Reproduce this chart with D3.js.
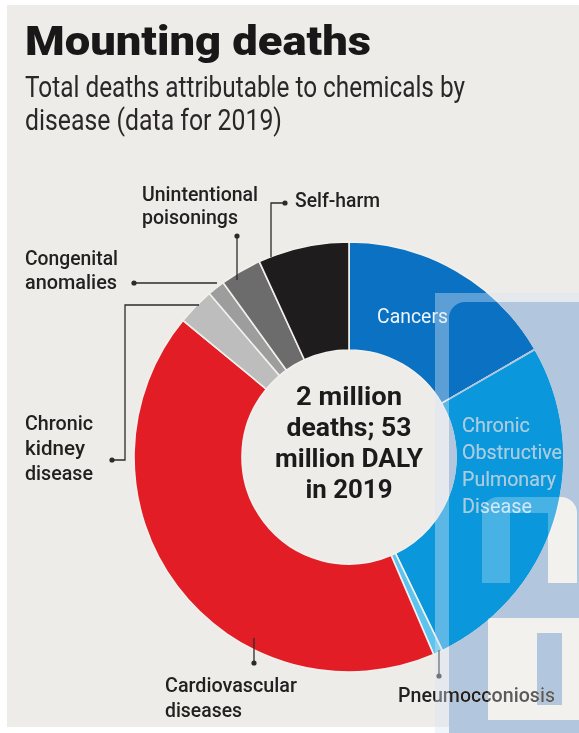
<!DOCTYPE html>
<html>
<head>
<meta charset="utf-8">
<script src="https://cdn.jsdelivr.net/npm/d3@7"></script>
<style>
html, body { margin: 0; padding: 0; background: #ffffff; }
svg { display: block; }
text { font-family: Roboto, "Noto Sans", sans-serif; }
</style>
</head>
<body>
<svg id="chart" width="579" height="733"></svg>
<script>
'use strict';

// deaths attributable to chemicals by disease, 2019 (thousands)
var categories = ['Cancers', 'Chronic Obstructive Pulmonary Disease', 'Pneumocconiosis',
    'Cardiovascular diseases', 'Chronic kidney disease', 'Congenital anomalies',
    'Unintentional poisonings', 'Self-harm'];
var deaths = [333, 524, 14, 848, 56, 26, 62, 137];
var sliceColors = ['#0b71c2', '#0a97dc', '#5cc4ef', '#e21d25', '#bdbdbd', '#9d9d9d', '#6c6c6c', '#1f1c1d'];

var titleText = 'Mounting deaths';
var subtitleLines = ['Total deaths attributable to chemicals by', 'disease (data for 2019)'];
var centreLines = ['2 million', 'deaths; 53', 'million DALY', 'in 2019'];

var svg = d3.select('#chart'),
    width = 579,
    height = 733,
    cx = 349,
    cy = 457,
    outerR = 215,
    innerR = 107,
    ink = '#242021',
    paper = '#eeece8',
    markBlue = '#b2c6de';

//paper background
svg.append('rect')
    .attr('x', 7).attr('y', 5)
    .attr('width', width - 7).attr('height', height - 11)
    .attr('fill', paper);

//title + subtitle
svg.append('text')
    .attr('x', 25).attr('y', 55)
    .attr('font-size', 41)
    .attr('font-weight', 900)
    .attr('fill', '#1a1718')
    .attr('textLength', 346)
    .attr('lengthAdjust', 'spacingAndGlyphs')
    .text(titleText);

var subWidths = [440, 257];
svg.selectAll('text.sub')
    .data(subtitleLines)
    .enter().append('text')
    .attr('class', 'sub')
    .attr('x', 25)
    .attr('y', (d, i) => 97 + i * 33)
    .attr('font-size', 29)
    .attr('fill', '#2b2728')
    .attr('textLength', (d, i) => subWidths[i])
    .attr('lengthAdjust', 'spacingAndGlyphs')
    .text(d => d);

//donut
var pie = d3.pie().sort(null).value(d => d)(deaths);
var arc = d3.arc().innerRadius(innerR).outerRadius(outerR);

var donut = svg.append('g').attr('transform', 'translate(' + cx + ',' + cy + ')');
donut.selectAll('path')
    .data(pie)
    .enter().append('path')
    .attr('d', arc)
    .attr('fill', (d, i) => sliceColors[i])
    .attr('stroke', '#f2f0ec')
    .attr('stroke-width', 1.6);

//centre text
var centreWidths = [106, 125, 148, 87];
donut.selectAll('text.centre')
    .data(centreLines)
    .enter().append('text')
    .attr('class', 'centre')
    .attr('x', 0)
    .attr('y', (d, i) => -52 + i * 31)
    .attr('text-anchor', 'middle')
    .attr('font-size', 26)
    .attr('font-weight', 700)
    .attr('fill', '#1d1a1b')
    .attr('textLength', (d, i) => centreWidths[i])
    .attr('lengthAdjust', 'spacingAndGlyphs')
    .text(d => d);

//labels inside the blue slices
var innerLabels = [
    { lines: ['Cancers'], x: 377, y: 323, widths: [71], fill: '#eef6fc' },
    { lines: ['Chronic', 'Obstructive', 'Pulmonary', 'Disease'], x: 462, y: 432, widths: [68, 100, 94, 70], fill: '#bfe2f6' }
];

//labels outside with leader lines (first leader point carries the dot)
var outerLabels = [
    { lines: ['Unintentional', 'poisonings'], x: 142, y: 201, lh: 23, widths: [116, 96],
      leader: [[237, 236], [237, 280]] },
    { lines: ['Congenital', 'anomalies'], x: 25, y: 265, lh: 24, widths: [93, 92],
      leader: [[134, 283], [217, 283]] },
    { lines: ['Self-harm'], x: 295, y: 207, lh: 24, widths: [85],
      leader: [[285, 203], [271, 203], [271, 257]] },
    { lines: ['Chronic', 'kidney', 'disease'], x: 25, y: 430, lh: 25, widths: [68, 60, 68],
      leader: [[112, 460], [125, 460], [125, 305], [199, 305]] },
    { lines: ['Cardiovascular', 'diseases'], x: 165, y: 692, lh: 25, widths: [132, 77],
      leader: [[254, 663], [254, 638]] },
    { lines: ['Pneumocconiosis'], x: 398, y: 702, lh: 24, widths: [157],
      leader: [[439, 676], [439, 650]] }
];

innerLabels.forEach(lab => {
    lab.lines.forEach((line, i) => {
        svg.append('text')
            .attr('x', lab.x)
            .attr('y', lab.y + i * 27)
            .attr('font-size', 20)
            .attr('fill', lab.fill)
            .attr('textLength', lab.widths[i])
            .attr('lengthAdjust', 'spacingAndGlyphs')
            .text(line);
    });
});

var leaderLine = d3.line();
outerLabels.forEach(lab => {
    svg.append('path')
        .attr('d', leaderLine(lab.leader))
        .attr('fill', 'none')
        .attr('stroke', '#2e2a2b')
        .attr('stroke-width', 1.3);
    svg.append('circle')
        .attr('cx', lab.leader[0][0])
        .attr('cy', lab.leader[0][1])
        .attr('r', 2.6)
        .attr('fill', '#2e2a2b');
    lab.lines.forEach((line, i) => {
        svg.append('text')
            .attr('x', lab.x)
            .attr('y', lab.y + i * lab.lh)
            .attr('font-size', 20)
            .attr('font-weight', 500)
            .attr('fill', ink)
            .attr('textLength', lab.widths[i])
            .attr('lengthAdjust', 'spacingAndGlyphs')
            .text(line);
    });
});

//publisher watermark in the lower right corner
var mark = svg.append('g');

function bodyOutline(p) {
    p.moveTo(449, 318);
    p.arcTo(449, 302, 465, 302, 16);
    p.lineTo(width, 302);
    p.lineTo(width, height);
    p.lineTo(449, height);
    p.closePath();
}

function openings(p) {
    //arch of the "n"
    p.moveTo(482, 583);
    p.lineTo(482, 513);
    p.arcTo(482, 497, 498, 497, 16);
    p.lineTo(561, 497);
    p.arcTo(577, 497, 577, 513, 16);
    p.lineTo(577, 583);
    p.lineTo(548, 583);
    p.lineTo(548, 513);
    p.lineTo(510, 513);
    p.lineTo(510, 583);
    p.closePath();
    //lower opening
    p.moveTo(488, 618);
    p.lineTo(width, 618);
    p.lineTo(width, 720);
    p.lineTo(488, 720);
    p.closePath();
}

//pale frame peeking out above and left of the body
var frame = d3.path();
frame.moveTo(435, 293);
frame.lineTo(width, 293);
frame.lineTo(width, height);
frame.lineTo(435, height);
frame.closePath();
bodyOutline(frame);
mark.append('path')
    .attr('d', frame.toString())
    .attr('fill-rule', 'evenodd')
    .attr('fill', 'rgba(215,230,245,0.4)');

var body = d3.path();
bodyOutline(body);
openings(body);
mark.append('path')
    .attr('d', body.toString())
    .attr('fill', markBlue)
    .attr('fill-rule', 'evenodd')
    .style('mix-blend-mode', 'darken');

var light = d3.path();
openings(light);
mark.append('path')
    .attr('d', light.toString())
    .attr('fill', 'rgba(255,255,255,0.26)');

mark.append('rect')
    .attr('x', 537).attr('y', 633)
    .attr('width', 25).attr('height', 72)
    .attr('fill', markBlue)
    .style('mix-blend-mode', 'darken');
</script>
</body>
</html>
